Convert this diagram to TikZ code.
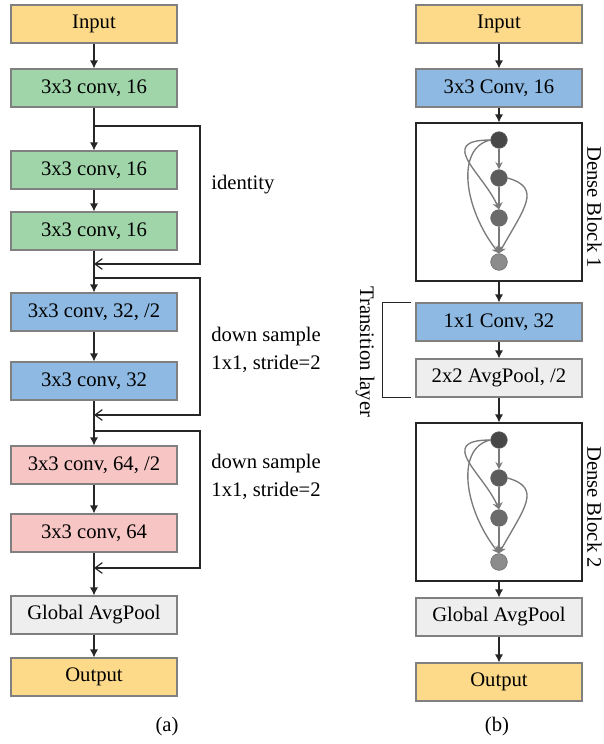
\documentclass[tikz,border=0pt]{standalone}
\usepackage{fontspec}
\setmainfont{Liberation Serif}
\usetikzlibrary{arrows.meta,calc}

\definecolor{ioYellow}{HTML}{FDD98A}
\definecolor{convGreen}{HTML}{A0D5AA}
\definecolor{convBlue}{HTML}{8DB9E2}
\definecolor{convPink}{HTML}{F8C5C5}
\definecolor{poolGray}{HTML}{EEEEEE}
\definecolor{rimGray}{HTML}{808080}
\definecolor{wireGray}{HTML}{7A7A7A}

\tikzset{
  layer/.style={draw=rimGray, line width=0.8pt, minimum width=124.5pt, minimum height=28.5pt,
    inner sep=0pt, font=\fontsize{15.5}{18}\selectfont},
  unit/.style={circle, draw=black!60, line width=0.4pt, minimum size=12.5pt, inner sep=0pt},
  flow/.style={draw=black!85, line width=0.9pt, -{Latex[length=6pt,width=6pt]}},
  skip/.style={draw=black!85, line width=0.9pt, -{Straight Barb[length=5.5pt,width=8pt]}},
  wire/.style={draw=wireGray, line width=1pt, -{Stealth[length=5.5pt,width=5.5pt]}},
  note/.style={font=\fontsize{15.5}{18}\selectfont, inner sep=0pt}
}

\begin{document}
\begin{tikzpicture}[x=0.75pt,y=0.75pt,yscale=-1,xscale=1]
	\useasboundingbox (0,0) rectangle (604,744);

	% (a) residual network
	\node[layer, fill=ioYellow]  (inA)   at (94,24)  {Input};
	\node[layer, fill=convGreen] (c16a)  at (94,88)  {3x3 conv, 16};
	\node[layer, fill=convGreen] (c16b)  at (94,170) {3x3 conv, 16};
	\node[layer, fill=convGreen] (c16c)  at (94,231) {3x3 conv, 16};
	\node[layer, fill=convBlue]  (c32a)  at (94,312) {3x3 conv, 32, /2};
	\node[layer, fill=convBlue]  (c32b)  at (94,381) {3x3 conv, 32};
	\node[layer, fill=convPink]  (c64a)  at (94,465) {3x3 conv, 64, /2};
	\node[layer, fill=convPink]  (c64b)  at (94,533) {3x3 conv, 64};
	\node[layer, fill=poolGray]  (gapA)  at (94,615) {Global AvgPool};
	\node[layer, fill=ioYellow]  (outA)  at (94,677) {Output};

	% split and merge points of the shortcuts
	\coordinate (split1) at (94,126);
	\coordinate (merge1) at (94,264);
	\coordinate (split2) at (94,278);
	\coordinate (merge2) at (94,415);
	\coordinate (split3) at (94,431);
	\coordinate (merge3) at (94,568);

	\draw[flow] (inA) -- (c16a);
	\draw[flow] (c16a) -- (c16b);
	\draw[flow] (c16b) -- (c16c);
	\draw[flow] (c16c) -- (c32a);
	\draw[flow] (c32a) -- (c32b);
	\draw[flow] (c32b) -- (c64a);
	\draw[flow] (c64a) -- (c64b);
	\draw[flow] (c64b) -- (gapA);
	\draw[flow] (gapA) -- (outA);

	\draw[skip] (split1) -- ++(106,0) |- (merge1);
	\draw[skip] (split2) -- ++(106,0) |- (merge2);
	\draw[skip] (split3) -- ++(106,0) |- (merge3);

	\node[note, anchor=west] (idLbl) at (211,185) {identity};
	\node[note, anchor=west, align=center] (dsLbl1) at (211,350) {down sample\\[3pt]1x1, stride=2};
	\node[note, anchor=west, align=center] (dsLbl2) at (211,477) {down sample\\[3pt]1x1, stride=2};
	\node[note] (capA) at (167,727) {(a)};

	% (b) dense network
	\node[layer, fill=ioYellow] (inB)   at (499,24)  {Input};
	\node[layer, fill=convBlue] (convB) at (499,88)  {3x3 Conv, 16};
	\node[draw=black!85, line width=0.8pt, minimum width=124.5pt, minimum height=118.5pt] (dense1) at (499,202) {};
	\node[layer, fill=convBlue] (trConv) at (499,322) {1x1 Conv, 32};
	\node[layer, fill=poolGray] (trPool) at (499,378) {2x2 AvgPool, /2};
	\node[draw=black!85, line width=0.8pt, minimum width=124.5pt, minimum height=118.5pt] (dense2) at (499,502) {};
	\node[layer, fill=poolGray] (gapB)  at (499,617) {Global AvgPool};
	\node[layer, fill=ioYellow] (outB)  at (499,682) {Output};

	% layers inside each dense block
	\foreach \b in {1,2}{
		\node[unit, fill=black!72] (d\b a) at ($(dense\b)+(0,-62)$) {};
		\node[unit, fill=black!64] (d\b b) at ($(dense\b)+(0,-24)$) {};
		\node[unit, fill=black!58] (d\b c) at ($(dense\b)+(0,16)$) {};
		\node[unit, fill=black!45] (d\b d) at ($(dense\b)+(0,60)$) {};
		\draw[wire] (d\b a) -- (d\b b);
		\draw[wire] (d\b b) -- (d\b c);
		\draw[wire] (d\b c) -- (d\b d);
		\draw[wire] (d\b a.west) .. controls +(-55,0) and +(-15,-35) .. (d\b c.north);
		\draw[wire] (d\b a.west) .. controls +(-35,8) and +(-35,-45) .. (d\b d.north);
		\draw[wire] (d\b b.east) .. controls +(35,10) and +(25,-45) .. (d\b d.north);
	}

	\draw[flow] (inB) -- (convB);
	\draw[flow] (convB) -- (dense1);
	\draw[flow] (dense1) -- (trConv);
	\draw[flow] (trConv) -- (trPool);
	\draw[flow] (trPool) -- (dense2);
	\draw[flow] (dense2) -- (gapB);
	\draw[flow] (gapB) -- (outB);

	% bracket of the transition layer
	\draw[black!85, line width=0.8pt] ($(trConv.north west)+(-4,0)$) -- ++(-29,0) coordinate (brTop)
		|- ($(trPool.south west)+(-4,0)$);
	\node[note, rotate=-90] (trLbl) at (365,352) {Transition layer};

	\node[note, rotate=-90] (db1Lbl) at ($(dense1.east)+(12,5)$) {Dense Block 1};
	\node[note, rotate=-90] (db2Lbl) at ($(dense2.east)+(12,5)$) {Dense Block 2};
	\node[note] (capB) at (497,727) {(b)};
\end{tikzpicture}
\end{document}
